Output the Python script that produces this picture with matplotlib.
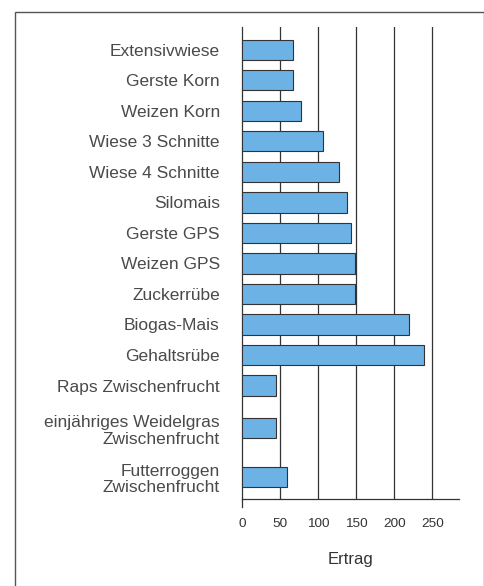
import matplotlib
matplotlib.use("Agg")
import matplotlib.pyplot as plt
from matplotlib.patches import Rectangle
import numpy as np

plt.rcParams['font.family'] = ['Liberation Sans', 'DejaVu Sans']

categories = [
    "Extensivwiese", "Gerste Korn", "Weizen Korn", "Wiese 3 Schnitte",
    "Wiese 4 Schnitte", "Silomais", "Gerste GPS", "Weizen GPS",
    "Zuckerrübe", "Biogas-Mais", "Gehaltsrübe", "Raps Zwischenfrucht",
    "einjähriges Weidelgras\nZwischenfrucht", "Futterroggen\nZwischenfrucht",
]
values = [67, 67, 78, 107, 128, 138, 143, 148, 148, 219, 239, 44, 44, 59]
xticks = [0, 50, 100, 150, 200, 250]
xlabel = "Ertrag"

# category positions: two-line labels get extra room
pos = []
y = 0.0
prev_lines = 1
for i, c in enumerate(categories):
    n = c.count("\n") + 1
    if i > 0:
        y += 1.0 + 0.2 * (prev_lines - 1) + 0.4 * (n - 1)
    pos.append(y)
    prev_lines = n

W, H = 485, 586
fig = plt.figure(figsize=(W / 100, H / 100), dpi=100)
fig.patches.append(Rectangle((15 / W, -0.05), (484 - 15) / W, 1.05 - 12 / H,
                             transform=fig.transFigure, fill=False,
                             edgecolor='#555555', linewidth=1.0))

ax = fig.add_axes([242 / W, 1 - 499 / H, (459 - 242) / W, (499 - 27) / H])
text_col = '#4a4a4a'

ax.set_xlim(0, 285)
ax.set_ylim(pos[-1] + 0.72, pos[0] - 0.75)

for t in xticks[1:]:
    ax.axvline(t, color='#333333', linewidth=0.9, zorder=1)

ax.barh(pos, values, height=0.66, color='#6cb2e4', edgecolor='#333333',
        linewidth=0.8, zorder=3)

ax.set_yticks(pos)
ax.set_yticklabels(categories, fontsize=12.5, color=text_col, ha='right',
                   linespacing=1.15)
ax.tick_params(axis='y', length=0, pad=16)
ax.set_xticks(xticks)
ax.set_xticklabels([str(t) for t in xticks], fontsize=9.7, color='#333333')
ax.tick_params(axis='x', length=0, pad=13.5)

for s in ['top', 'right']:
    ax.spines[s].set_visible(False)
ax.spines['left'].set_color('#333333')
ax.spines['left'].set_linewidth(0.9)
ax.spines['bottom'].set_color('#333333')
ax.spines['bottom'].set_linewidth(0.9)
ax.plot([0, 0], [-0.018, 0], transform=ax.get_xaxis_transform(),
        color='#333333', linewidth=0.9, clip_on=False)

ax.set_xlabel(xlabel, fontsize=12, color='#333333', labelpad=16)

fig.savefig("out.png", dpi=100)
